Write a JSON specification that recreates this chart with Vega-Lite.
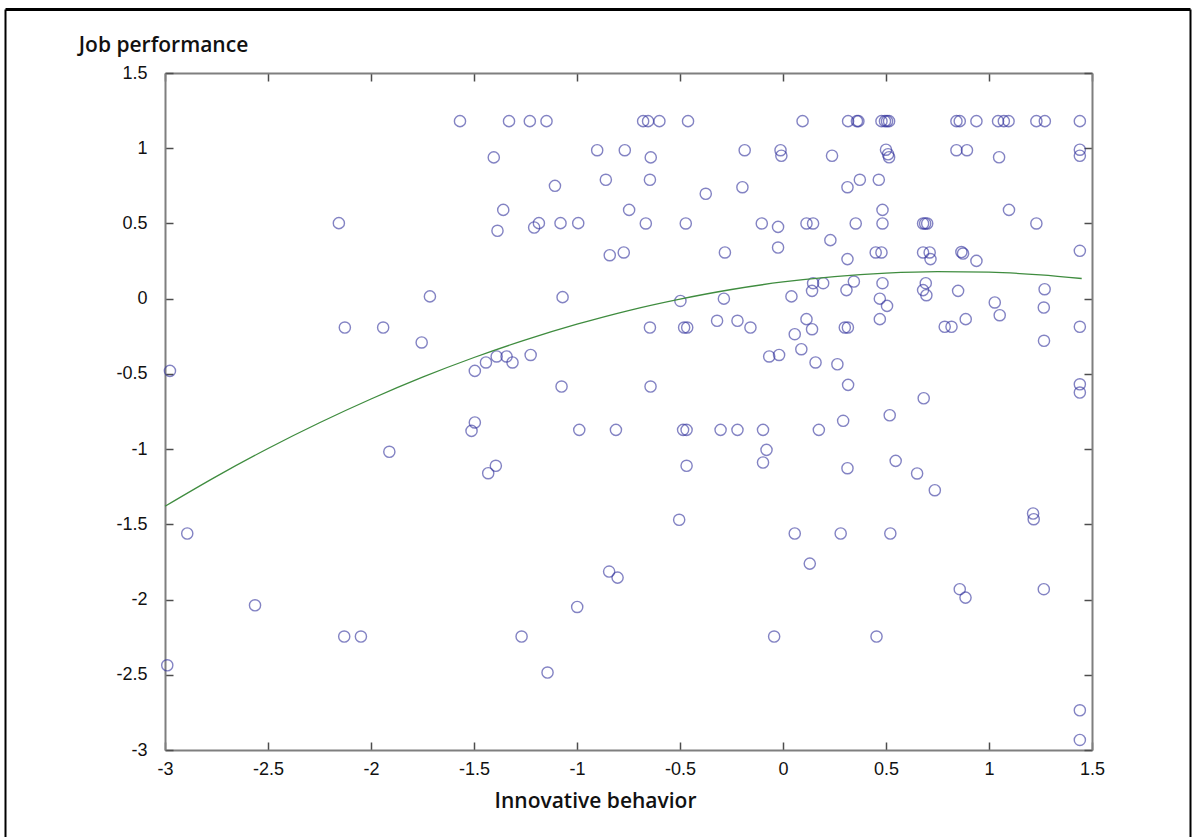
{
  "$schema": "https://vega.github.io/schema/vega-lite/v6.json",
  "width": 1185,
  "height": 828,
  "autosize": {"type": "none"},
  "padding": {"left": 5, "top": 9, "right": 5, "bottom": 0},
  "background": "white",
  "config": {
    "view": {"stroke": null},
    "axis": {
      "domain": true,
      "domainColor": "#7f7f7f",
      "domainWidth": 2,
      "grid": false,
      "tickColor": "#4d4d4d",
      "tickWidth": 1.5,
      "tickSize": -8,
      "labelFont": "Liberation Sans",
      "labelFontSize": 18,
      "labelColor": "#111111",
      "titleFont": "Open Sans",
      "titleFontSize": 21,
      "titleFontWeight": 600,
      "titleColor": "#111111"
    }
  },
  "datasets": {
    "points": [
      {"ib": -1.568, "jp": 1.18}, {"ib": -1.33, "jp": 1.18}, {"ib": -1.229, "jp": 1.18}, {"ib": -1.148, "jp": 1.18},
      {"ib": -0.679, "jp": 1.18}, {"ib": -0.655, "jp": 1.18}, {"ib": -0.6, "jp": 1.18}, {"ib": -0.461, "jp": 1.18},
      {"ib": 0.095, "jp": 1.18}, {"ib": 0.316, "jp": 1.18}, {"ib": 0.359, "jp": 1.18}, {"ib": 0.366, "jp": 1.18},
      {"ib": 0.478, "jp": 1.18}, {"ib": 0.495, "jp": 1.18}, {"ib": 0.505, "jp": 1.18}, {"ib": 0.515, "jp": 1.18},
      {"ib": 0.842, "jp": 1.18}, {"ib": 0.858, "jp": 1.18}, {"ib": 0.939, "jp": 1.18}, {"ib": 1.044, "jp": 1.18},
      {"ib": 1.072, "jp": 1.18}, {"ib": 1.095, "jp": 1.18}, {"ib": 1.23, "jp": 1.18}, {"ib": 1.271, "jp": 1.18},
      {"ib": 1.441, "jp": 1.18},
      {"ib": -1.404, "jp": 0.939}, {"ib": -0.902, "jp": 0.987}, {"ib": -0.768, "jp": 0.987}, {"ib": -0.642, "jp": 0.939},
      {"ib": -0.186, "jp": 0.987}, {"ib": -0.012, "jp": 0.987}, {"ib": -0.008, "jp": 0.95}, {"ib": 0.238, "jp": 0.95},
      {"ib": 0.5, "jp": 0.99}, {"ib": 0.51, "jp": 0.96}, {"ib": 0.515, "jp": 0.94}, {"ib": 0.842, "jp": 0.987},
      {"ib": 0.893, "jp": 0.987}, {"ib": 1.049, "jp": 0.94}, {"ib": 1.441, "jp": 0.99}, {"ib": 1.441, "jp": 0.95},
      {"ib": -1.107, "jp": 0.75}, {"ib": -0.86, "jp": 0.79}, {"ib": -0.646, "jp": 0.79}, {"ib": -0.375, "jp": 0.697},
      {"ib": -0.197, "jp": 0.741}, {"ib": 0.313, "jp": 0.741}, {"ib": 0.373, "jp": 0.79}, {"ib": 0.465, "jp": 0.79},
      {"ib": -2.156, "jp": 0.502}, {"ib": -1.358, "jp": 0.59}, {"ib": -1.386, "jp": 0.451}, {"ib": -1.208, "jp": 0.473},
      {"ib": -1.185, "jp": 0.502}, {"ib": -1.08, "jp": 0.502}, {"ib": -0.994, "jp": 0.502}, {"ib": -0.747, "jp": 0.59},
      {"ib": -0.666, "jp": 0.5}, {"ib": -0.472, "jp": 0.5}, {"ib": -0.103, "jp": 0.5}, {"ib": -0.024, "jp": 0.477},
      {"ib": -0.024, "jp": 0.34}, {"ib": 0.114, "jp": 0.5}, {"ib": 0.146, "jp": 0.5}, {"ib": 0.23, "jp": 0.389},
      {"ib": 0.353, "jp": 0.5}, {"ib": 0.483, "jp": 0.59}, {"ib": 0.483, "jp": 0.5}, {"ib": 0.68, "jp": 0.5},
      {"ib": 0.69, "jp": 0.5}, {"ib": 0.7, "jp": 0.5}, {"ib": 1.097, "jp": 0.59}, {"ib": 1.23, "jp": 0.5},
      {"ib": 1.441, "jp": 0.318},
      {"ib": -0.841, "jp": 0.289}, {"ib": -0.773, "jp": 0.307}, {"ib": -0.282, "jp": 0.307}, {"ib": 0.313, "jp": 0.263},
      {"ib": 0.45, "jp": 0.307}, {"ib": 0.478, "jp": 0.307}, {"ib": 0.68, "jp": 0.307}, {"ib": 0.712, "jp": 0.307},
      {"ib": 0.716, "jp": 0.263}, {"ib": 0.866, "jp": 0.31}, {"ib": 0.874, "jp": 0.3}, {"ib": 0.939, "jp": 0.251},
      {"ib": -1.714, "jp": 0.015}, {"ib": -1.07, "jp": 0.01}, {"ib": -0.498, "jp": -0.015}, {"ib": -0.287, "jp": 0.0},
      {"ib": 0.041, "jp": 0.015}, {"ib": 0.146, "jp": 0.103}, {"ib": 0.195, "jp": 0.103}, {"ib": 0.141, "jp": 0.052},
      {"ib": 0.344, "jp": 0.114}, {"ib": 0.308, "jp": 0.057}, {"ib": 0.483, "jp": 0.103}, {"ib": 0.47, "jp": 0.0},
      {"ib": 0.505, "jp": -0.048}, {"ib": 0.693, "jp": 0.103}, {"ib": 0.68, "jp": 0.057}, {"ib": 0.696, "jp": 0.023},
      {"ib": 0.85, "jp": 0.052}, {"ib": 1.028, "jp": -0.025}, {"ib": 1.052, "jp": -0.11}, {"ib": 1.27, "jp": 0.063},
      {"ib": 1.266, "jp": -0.059},
      {"ib": -2.127, "jp": -0.192}, {"ib": -1.941, "jp": -0.192}, {"ib": -1.754, "jp": -0.291}, {"ib": -0.646, "jp": -0.192},
      {"ib": -0.48, "jp": -0.192}, {"ib": -0.465, "jp": -0.192}, {"ib": -0.32, "jp": -0.147}, {"ib": -0.221, "jp": -0.147},
      {"ib": -0.158, "jp": -0.192}, {"ib": 0.114, "jp": -0.136}, {"ib": 0.141, "jp": -0.203}, {"ib": 0.057, "jp": -0.236},
      {"ib": 0.3, "jp": -0.192}, {"ib": 0.315, "jp": -0.192}, {"ib": 0.47, "jp": -0.136}, {"ib": 0.785, "jp": -0.187},
      {"ib": 0.818, "jp": -0.187}, {"ib": 0.887, "jp": -0.136}, {"ib": 1.441, "jp": -0.187}, {"ib": 1.267, "jp": -0.28},
      {"ib": -2.976, "jp": -0.48}, {"ib": -1.496, "jp": -0.48}, {"ib": -1.442, "jp": -0.424}, {"ib": -1.39, "jp": -0.384},
      {"ib": -1.342, "jp": -0.384}, {"ib": -1.313, "jp": -0.424}, {"ib": -1.225, "jp": -0.374}, {"ib": -0.067, "jp": -0.384},
      {"ib": -0.019, "jp": -0.374}, {"ib": 0.089, "jp": -0.336}, {"ib": 0.158, "jp": -0.424}, {"ib": 0.264, "jp": -0.436},
      {"ib": -1.075, "jp": -0.584}, {"ib": -0.643, "jp": -0.584}, {"ib": 0.316, "jp": -0.573}, {"ib": 1.441, "jp": -0.569},
      {"ib": 1.441, "jp": -0.624}, {"ib": 0.683, "jp": -0.662}, {"ib": 0.518, "jp": -0.775}, {"ib": 0.292, "jp": -0.812},
      {"ib": -1.496, "jp": -0.823}, {"ib": -1.512, "jp": -0.879}, {"ib": -0.989, "jp": -0.872}, {"ib": -0.811, "jp": -0.872},
      {"ib": -0.485, "jp": -0.872}, {"ib": -0.468, "jp": -0.872}, {"ib": -0.303, "jp": -0.872}, {"ib": -0.221, "jp": -0.872},
      {"ib": -0.097, "jp": -0.872}, {"ib": 0.174, "jp": -0.872}, {"ib": -0.08, "jp": -1.005}, {"ib": -0.097, "jp": -1.089},
      {"ib": -0.468, "jp": -1.111}, {"ib": -1.431, "jp": -1.16}, {"ib": -1.394, "jp": -1.111}, {"ib": -1.911, "jp": -1.018},
      {"ib": 0.547, "jp": -1.078}, {"ib": 0.651, "jp": -1.162}, {"ib": 0.313, "jp": -1.127}, {"ib": 0.737, "jp": -1.273},
      {"ib": -0.504, "jp": -1.47}, {"ib": 1.214, "jp": -1.428}, {"ib": 1.217, "jp": -1.466}, {"ib": 0.057, "jp": -1.561},
      {"ib": 0.28, "jp": -1.561}, {"ib": 0.521, "jp": -1.561}, {"ib": -2.892, "jp": -1.561}, {"ib": -0.844, "jp": -1.814},
      {"ib": -0.803, "jp": -1.854}, {"ib": 0.13, "jp": -1.761}, {"ib": 0.858, "jp": -1.931}, {"ib": 0.886, "jp": -1.987},
      {"ib": 1.266, "jp": -1.931}, {"ib": -2.563, "jp": -2.038}, {"ib": -0.999, "jp": -2.049}, {"ib": -2.13, "jp": -2.246},
      {"ib": -2.049, "jp": -2.246}, {"ib": -1.269, "jp": -2.246}, {"ib": -0.043, "jp": -2.246}, {"ib": 0.454, "jp": -2.246},
      {"ib": -2.989, "jp": -2.437}, {"ib": -1.143, "jp": -2.485}, {"ib": 1.441, "jp": -2.736}, {"ib": 1.441, "jp": -2.933}
    ],
    "curve": [
      {"ib": -3.0, "jp": -1.38}, {"ib": -2.75, "jp": -1.181}, {"ib": -2.5, "jp": -0.996}, {"ib": -2.25, "jp": -0.825},
      {"ib": -2.0, "jp": -0.667}, {"ib": -1.75, "jp": -0.522}, {"ib": -1.5, "jp": -0.391}, {"ib": -1.25, "jp": -0.274},
      {"ib": -1.0, "jp": -0.17}, {"ib": -0.75, "jp": -0.079}, {"ib": -0.5, "jp": -0.003}, {"ib": -0.25, "jp": 0.061},
      {"ib": 0.0, "jp": 0.111}, {"ib": 0.25, "jp": 0.147}, {"ib": 0.5, "jp": 0.17}, {"ib": 0.75, "jp": 0.18},
      {"ib": 1.0, "jp": 0.176}, {"ib": 1.25, "jp": 0.158}, {"ib": 1.45, "jp": 0.134}
    ]
  },
  "layer": [
    {
      "data": {"name": "points"},
      "mark": {"type": "point", "shape": "circle", "filled": false, "size": 125, "stroke": "#30309c", "strokeWidth": 1.4, "strokeOpacity": 0.85},
      "encoding": {
        "x": {
          "field": "ib", "type": "quantitative",
          "scale": {"domain": [-3, 1.5], "range": [160, 1087], "nice": false, "zero": false},
          "axis": {
            "orient": "bottom",
            "offset": -87,
            "values": [-3, -2.5, -2, -1.5, -1, -0.5, 0, 0.5, 1, 1.5],
            "labelExpr": "'' + datum.value",
            "labelFlush": false,
            "labelPadding": 18,
            "title": "Innovative behavior",
            "titleX": 590,
            "titleY": 51,
            "titleAlign": "center",
            "titleBaseline": "middle"
          }
        },
        "y": {
          "field": "jp", "type": "quantitative",
          "scale": {"domain": [-3, 1.5], "range": [741, 64], "nice": false, "zero": false},
          "axis": {
            "orient": "left",
            "offset": -160,
            "values": [-3, -2.5, -2, -1.5, -1, -0.5, 0, 0.5, 1, 1.5],
            "labelExpr": "'' + datum.value",
            "labelFlush": false,
            "labelPadding": 26,
            "title": "Job performance",
            "titleAngle": 0,
            "titleX": -2,
            "titleY": 36,
            "titleAlign": "center",
            "titleBaseline": "middle"
          }
        }
      }
    },
    {
      "data": {"name": "curve"},
      "mark": {"type": "line", "color": "#3f8c3f", "strokeWidth": 1.3, "interpolate": "monotone"},
      "encoding": {
        "x": {
          "field": "ib", "type": "quantitative",
          "scale": {"domain": [-3, 1.5], "range": [160, 1087], "nice": false, "zero": false},
          "axis": {"orient": "top", "offset": -64, "values": [-3, -2.5, -2, -1.5, -1, -0.5, 0, 0.5, 1, 1.5], "labels": false, "title": null}
        },
        "y": {
          "field": "jp", "type": "quantitative",
          "scale": {"domain": [-3, 1.5], "range": [741, 64], "nice": false, "zero": false},
          "axis": {"orient": "right", "offset": -98, "values": [-3, -2.5, -2, -1.5, -1, -0.5, 0, 0.5, 1, 1.5], "labels": false, "title": null}
        }
      }
    },
    {
      "data": {"name": "points"},
      "mark": {"type": "point", "opacity": 0},
      "encoding": {
        "x": {
          "field": "ib", "type": "quantitative",
          "axis": {"orient": "top", "values": [], "ticks": false, "labels": false, "title": null, "domainColor": "#000000", "domainWidth": 3}
        },
        "y": {
          "field": "jp", "type": "quantitative",
          "axis": {"orient": "left", "values": [], "ticks": false, "labels": false, "title": null, "domainColor": "#000000", "domainWidth": 2}
        }
      }
    },
    {
      "data": {"name": "points"},
      "mark": {"type": "point", "opacity": 0},
      "encoding": {
        "x": {"field": "ib", "type": "quantitative", "axis": null},
        "y": {
          "field": "jp", "type": "quantitative",
          "axis": {"orient": "right", "values": [], "ticks": false, "labels": false, "title": null, "domainColor": "#000000", "domainWidth": 2}
        }
      }
    }
  ],
  "resolve": {
    "scale": {"x": "independent", "y": "independent"},
    "axis": {"x": "independent", "y": "independent"}
  }
}
